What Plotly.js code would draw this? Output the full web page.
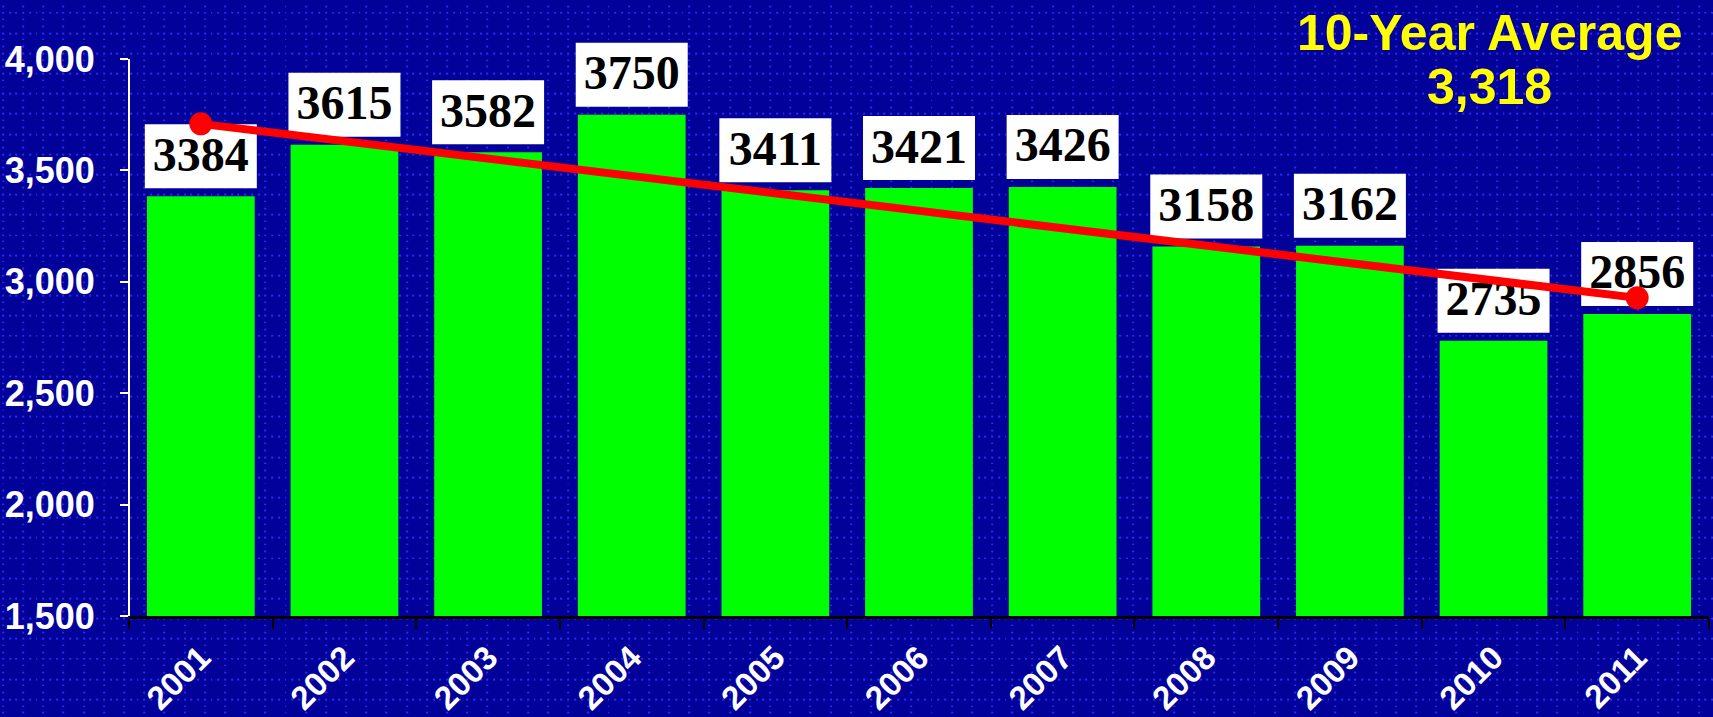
<!DOCTYPE html>
<html>
<head>
<meta charset="utf-8">
<script src="https://cdn.plot.ly/plotly-3.0.1.min.js"></script>
<style>
html, body { margin: 0; padding: 0; }
body {
	width: 1713px; height: 717px; overflow: hidden;
	background-color: #02029a;
	background-image: url("data:image/svg+xml;utf8,<svg xmlns='http://www.w3.org/2000/svg' width='20' height='20'><g fill='%232b2bf2'><circle cx='3' cy='13' r='1.1'/><circle cx='9.7' cy='13' r='1.1'/><circle cx='16.3' cy='13' r='1.1'/><circle cx='3' cy='6.3' r='1.1'/><circle cx='3' cy='19.7' r='1.1'/></g></svg>");
	background-size: 20.2px 20.2px;
}
#chart { width: 1713px; height: 717px; }
</style>
</head>
<body>
<div id="chart"></div>
<script>
var years = ['2001','2002','2003','2004','2005','2006','2007','2008','2009','2010','2011'];
var counts = [3384, 3615, 3582, 3750, 3411, 3421, 3426, 3158, 3162, 2735, 2856];
var trendYears = ['2001', '2011'];
var trendValues = [3709, 2928];
var avgTitle = '10-Year Average';
var avgValue = '3,318';

var bars = {
	x: years,
	y: counts,
	type: 'bar',
	marker: {color: '#00ff00'},
	hoverinfo: 'none'
};

// transparent markers just push the text up off the bar
var labels = {
	x: years,
	y: counts,
	text: counts.map(String),
	mode: 'markers+text',
	type: 'scatter',
	marker: {size: 20, opacity: 0},
	textposition: 'top center',
	textfont: {family: 'Liberation Serif', size: 48, color: '#000000', weight: 'bold'},
	cliponaxis: false,
	hoverinfo: 'none'
};

var trend = {
	x: trendYears,
	y: trendValues,
	mode: 'lines+markers',
	type: 'scatter',
	line: {color: '#ff0000', width: 8},
	marker: {color: '#ff0000', size: 23},
	cliponaxis: false,
	hoverinfo: 'none'
};

// white boxes behind the value labels
var boxes = [];
for (var i = 0; i < years.length; i++) {
	boxes.push({
		type: 'rect', layer: 'below',
		xref: 'x', xsizemode: 'pixel', xanchor: i, x0: -56, x1: 56,
		yref: 'y', ysizemode: 'pixel', yanchor: counts[i], y0: 8, y1: 72,
		fillcolor: '#ffffff', line: {width: 0}
	});
}
// y axis line only up to 4,000
boxes.push({
	type: 'line', xref: 'paper', yref: 'y', x0: 0, x1: 0, y0: 1500, y1: 4000,
	line: {color: '#ffffff', width: 2}
});

var titleFont = {family: 'Liberation Sans', size: 50, color: '#ffff00', weight: 'bold'};

var layout = {
	width: 1713, height: 717,
	margin: {l: 129, r: 4, t: 10, b: 101},
	paper_bgcolor: 'rgba(0,0,0,0)',
	plot_bgcolor: 'rgba(0,0,0,0)',
	showlegend: false,
	bargap: 0.25,
	xaxis: {
		type: 'category',
		range: [-0.5, 10.5],
		showline: true, linecolor: '#000000', linewidth: 3,
		ticks: 'outside', tickson: 'boundaries', ticklen: 10, tickwidth: 2, tickcolor: '#000000',
		tickangle: -45,
		ticklabelstandoff: 6,
		tickfont: {family: 'Liberation Sans', size: 33, color: '#ffffff', weight: 'bold'},
		showgrid: false, zeroline: false, automargin: false
	},
	yaxis: {
		range: [1500, 4220],
		dtick: 500, tickformat: ',',
		showline: false,
		ticks: 'outside', ticklen: 8, tickwidth: 2, tickcolor: '#ffffff',
		ticklabelstandoff: 18,
		tickfont: {family: 'Liberation Sans', size: 36, color: '#ffffff', weight: 'bold'},
		showgrid: false, zeroline: false, automargin: false
	},
	shapes: boxes,
	annotations: [{
		xref: 'paper', yref: 'paper', x: 0.861, y: 0.962,
		xanchor: 'center', yanchor: 'middle', showarrow: false,
		text: avgTitle, font: titleFont
	}, {
		xref: 'paper', yref: 'paper', x: 0.861, y: 0.873,
		xanchor: 'center', yanchor: 'middle', showarrow: false,
		text: avgValue, font: titleFont
	}]
};

Plotly.newPlot('chart', [bars, labels, trend], layout, {displayModeBar: false, staticPlot: true});
</script>
</body>
</html>
